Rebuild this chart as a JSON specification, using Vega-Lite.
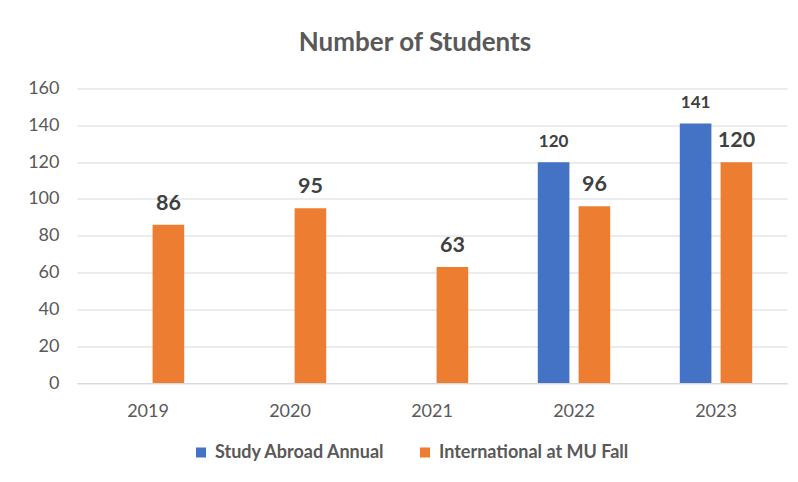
{
  "$schema": "https://vega.github.io/schema/vega-lite/v6.json",
  "width": 710,
  "height": 294.5,
  "autosize": {"type": "none"},
  "padding": {"left": 77, "top": 88.5, "right": 11, "bottom": 99},
  "background": "white",
  "title": {
    "text": "Number of Students",
    "font": "Lato",
    "fontSize": 26,
    "fontWeight": "bold",
    "color": "#595959",
    "anchor": "middle",
    "dx": -17,
    "offset": 24
  },
  "data": {
    "values": [
      {"year": "2019", "series": "International at MU Fall", "value": 86},
      {"year": "2020", "series": "International at MU Fall", "value": 95},
      {"year": "2021", "series": "International at MU Fall", "value": 63},
      {"year": "2022", "series": "Study Abroad Annual", "value": 120},
      {"year": "2022", "series": "International at MU Fall", "value": 96},
      {"year": "2023", "series": "Study Abroad Annual", "value": 141},
      {"year": "2023", "series": "International at MU Fall", "value": 120}
    ]
  },
  "encoding": {
    "x": {
      "field": "year",
      "type": "nominal",
      "scale": {"paddingInner": 0.49, "paddingOuter": 0.245},
      "axis": {
        "title": null,
        "labelAngle": 0,
        "labelFont": "Lato",
        "labelFontSize": 18,
        "labelColor": "#595959",
        "labelPadding": 19,
        "ticks": false,
        "tickSize": 0,
        "domainColor": "#D9D9D9",
        "domainWidth": 1,
        "grid": false
      }
    },
    "xOffset": {
      "field": "series",
      "type": "nominal",
      "scale": {"domain": ["Study Abroad Annual", "International at MU Fall"], "paddingInner": 0.225, "paddingOuter": 0}
    },
    "y": {
      "field": "value",
      "type": "quantitative",
      "scale": {"domain": [0, 160], "nice": false},
      "axis": {
        "title": null,
        "values": [0, 20, 40, 60, 80, 100, 120, 140, 160],
        "labelFont": "Lato",
        "labelFontSize": 18,
        "labelColor": "#595959",
        "labelPadding": 18,
        "ticks": false,
        "tickSize": 0,
        "domain": false,
        "gridColor": "#D9D9D9",
        "gridWidth": 1
      }
    }
  },
  "layer": [
    {
      "mark": {"type": "bar"},
      "encoding": {
        "color": {
          "field": "series",
          "type": "nominal",
          "scale": {"domain": ["Study Abroad Annual", "International at MU Fall"], "range": ["#4472C4", "#ED7D31"]},
          "legend": {
            "title": null,
            "orient": "none",
            "direction": "horizontal",
            "legendX": 115,
            "legendY": 355,
            "symbolType": "square",
            "symbolSize": 100,
            "symbolStrokeWidth": 0,
            "symbolOpacity": 1,
            "labelFont": "Lato",
            "labelFontSize": 18,
            "labelFontWeight": "bold",
            "labelColor": "#595959",
            "labelOffset": 5,
            "columnPadding": 30,
            "padding": 0,
            "labelLimit": 400
          }
        }
      }
    },
    {
      "mark": {"type": "text", "font": "Lato", "fontWeight": "bold", "color": "#404040", "baseline": "alphabetic", "dy": -15},
      "encoding": {
        "text": {"field": "value", "type": "quantitative"},
        "size": {
          "condition": {"test": "datum.series === 'Study Abroad Annual'", "value": 17},
          "value": 21.5
        }
      }
    }
  ],
  "config": {
    "view": {"stroke": null}
  }
}
